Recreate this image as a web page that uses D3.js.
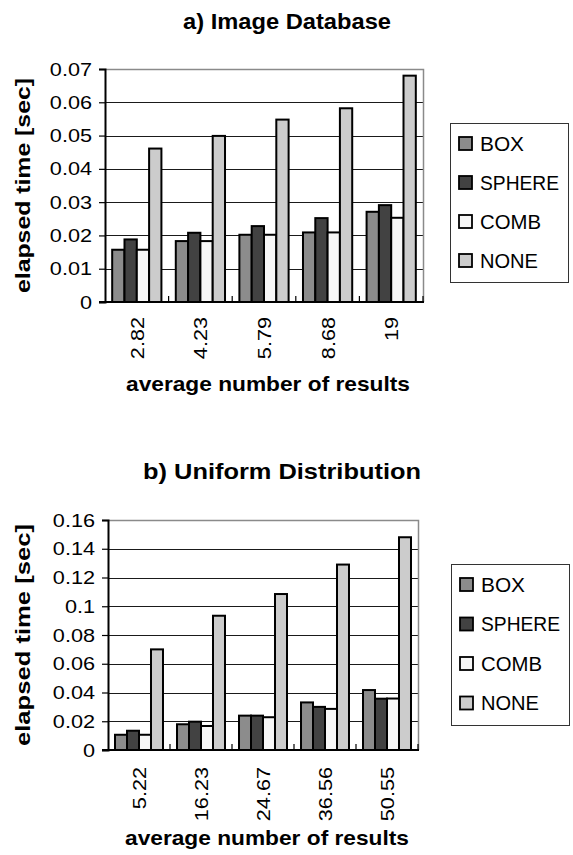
<!DOCTYPE html>
<html><head><meta charset="utf-8">
<script src="https://cdn.jsdelivr.net/npm/d3@7"></script>
<style>body{margin:0;background:#fff}svg{display:block}text{font-family:"Liberation Sans",Arial,sans-serif;fill:#000}</style>
</head><body><svg id="c" width="573" height="855"></svg>
<script>
const seriesNames = ["BOX","SPHERE","COMB","NONE"];
const seriesColors = ["#8c8c8c","#424242","#f7f7f7","#cccccc"];
const legendWidths = [44,79,61,58];

const titleA = "a) Image Database";
const catsA = ["2.82","4.23","5.79","8.68","19"];
const boxA = [0.0157,0.0183,0.0202,0.0209,0.0271];
const sphereA = [0.0188,0.0208,0.0228,0.0252,0.0291];
const combA = [0.0157,0.0183,0.0202,0.0209,0.0253];
const noneA = [0.0461,0.0499,0.0548,0.0582,0.0680];
const ticksA = [0,0.01,0.02,0.03,0.04,0.05,0.06,0.07];
const tickLabelsA = ["0","0.01","0.02","0.03","0.04","0.05","0.06","0.07"];

const titleB = "b) Uniform Distribution";
const catsB = ["5.22","16.23","24.67","36.56","50.55"];
const boxB = [0.0106,0.0179,0.0239,0.0331,0.0417];
const sphereB = [0.0134,0.0197,0.0239,0.0300,0.0357];
const combB = [0.0106,0.0167,0.0228,0.0286,0.0358];
const noneB = [0.0700,0.0934,0.1085,0.1290,0.1480];
const ticksB = [0,0.02,0.04,0.06,0.08,0.10,0.12,0.14,0.16];
const tickLabelsB = ["0","0.02","0.04","0.06","0.08","0.1","0.12","0.14","0.16"];

const xTitle = "average number of results";
const yTitle = "elapsed time [sec]";

const svg = d3.select("#c");

function stretch(sel, f){
  sel.each(function(){ const L=this.getComputedTextLength(); d3.select(this).attr("textLength",L*f).attr("lengthAdjust","spacingAndGlyphs"); });
}

function drawChart(cfg){
  const g = svg.append("g");
  const {L,R,T,B} = cfg;
  const y = d3.scaleLinear().domain([0,cfg.ticks[cfg.ticks.length-1]]).range([B,T]);
  const x0 = d3.scaleBand().domain(cfg.cats).range([L,R]).paddingInner(0.226).paddingOuter(0.113);
  const x1 = d3.scaleBand().domain(seriesNames).range([0,x0.bandwidth()]);
  const step = x0.step();
  // gridlines
  g.selectAll(".grid").data(cfg.ticks.slice(1,-1)).join("line")
    .attr("x1",L).attr("x2",R).attr("y1",d=>Math.round(y(d))+0.5).attr("y2",d=>Math.round(y(d))+0.5)
    .attr("stroke","#1a1a1a").attr("stroke-width",1);
  // plot border top/right
  g.append("path").attr("d",`M${L},${Math.round(T)+0.5}H${R+0.5}V${B}`).attr("fill","none").attr("stroke","#8a8a8a").attr("stroke-width",1.5);
  // bars
  const data = cfg.cats.map((c,i)=>({c, vals: cfg.series.map((s,j)=>({name:seriesNames[j], v:s[i], color:seriesColors[j]}))}));
  const grp = g.selectAll(".grp").data(data).join("g").attr("transform",d=>`translate(${x0(d.c)},0)`);
  grp.selectAll("rect").data(d=>d.vals).join("rect")
    .attr("x",d=>x1(d.name)).attr("width",x1.bandwidth())
    .attr("y",d=>y(d.v)).attr("height",d=>B-y(d.v))
    .attr("fill",d=>d.color).attr("stroke","#000").attr("stroke-width",2);
  // y axis
  const ya = d3.axisLeft(y).tickValues(cfg.ticks).tickFormat((d,i)=>cfg.tickLabels[i]).tickSize(6).tickPadding(7);
  const yg = g.append("g").attr("transform",`translate(${L},0)`).call(ya);
  yg.select(".domain").attr("stroke","#000").attr("stroke-width",2);
  yg.selectAll(".tick line").attr("stroke","#000").attr("stroke-width",1.2);
  yg.selectAll(".tick text").attr("font-size",19).attr("font-family","Liberation Sans, Arial, sans-serif");
  stretch(yg.selectAll(".tick text"),1.14);
  // x axis
  g.append("line").attr("x1",L-6).attr("x2",R+1).attr("y1",B).attr("y2",B).attr("stroke","#000").attr("stroke-width",2);
  g.selectAll(".xt").data(d3.range(1,cfg.cats.length+1)).join("line")
    .attr("x1",i=>L+i*step).attr("x2",i=>L+i*step).attr("y1",B-6).attr("y2",B).attr("stroke","#000").attr("stroke-width",1.2);
  const xl = g.selectAll(".xl").data(cfg.cats).join("text")
    .attr("transform",d=>`translate(${x0(d)+x0.bandwidth()/2+7},${B+cfg.labelGap}) rotate(-90)`)
    .attr("text-anchor","end").attr("font-size",19).text(d=>d);
  stretch(xl,1.14);
  // titles
  g.append("text").attr("x",cfg.titleX).attr("y",cfg.titleY).attr("text-anchor","middle")
    .attr("font-size",22).attr("font-weight","bold").attr("textLength",cfg.titleW).attr("lengthAdjust","spacingAndGlyphs").text(cfg.title);
  g.append("text").attr("x",(L+R)/2+4).attr("y",cfg.xTitleY).attr("text-anchor","middle")
    .attr("font-size",21).attr("font-weight","bold").attr("textLength",284).attr("lengthAdjust","spacingAndGlyphs").text(xTitle);
  g.append("text").attr("transform",`translate(30,${(T+B)/2}) rotate(-90)`).attr("text-anchor","middle")
    .attr("font-size",20).attr("font-weight","bold").attr("textLength",cfg.yTitleW).attr("lengthAdjust","spacingAndGlyphs").text(yTitle);
  // legend
  const lg = g.append("g");
  lg.append("rect").attr("x",cfg.legX+0.5).attr("y",cfg.legY+0.5).attr("width",118).attr("height",cfg.legH)
    .attr("fill","#fff").attr("stroke","#333").attr("stroke-width",1);
  const items = lg.selectAll(".li").data(seriesNames).join("g")
    .attr("transform",(d,i)=>`translate(${cfg.legX+9},${cfg.legY+20+i*cfg.legStep})`);
  items.append("rect").attr("x",0).attr("y",-6).attr("width",13).attr("height",13)
    .attr("fill",(d,i)=>seriesColors[i]).attr("stroke","#000").attr("stroke-width",1.8);
  items.append("text").attr("x",21).attr("y",0).attr("dy","0.36em").attr("font-size",21)
    .attr("textLength",(d,i)=>legendWidths[i]).attr("lengthAdjust","spacingAndGlyphs").text(d=>d);
}

drawChart({L:105,R:423,T:69,B:302,cats:catsA,series:[boxA,sphereA,combA,noneA],ticks:ticksA,tickLabels:tickLabelsA,labelGap:15,
  title:titleA,titleX:287,titleY:29,titleW:208,xTitleY:391,yTitleW:215,legX:450,legY:123,legH:159,legStep:39});
drawChart({L:108,R:418,T:520,B:750,cats:catsB,series:[boxB,sphereB,combB,noneB],ticks:ticksB,tickLabels:tickLabelsB,labelGap:17,
  title:titleB,titleX:282,titleY:479,titleW:278,xTitleY:845,yTitleW:222,legX:451,legY:564,legH:161,legStep:39.5});
</script></body></html>
